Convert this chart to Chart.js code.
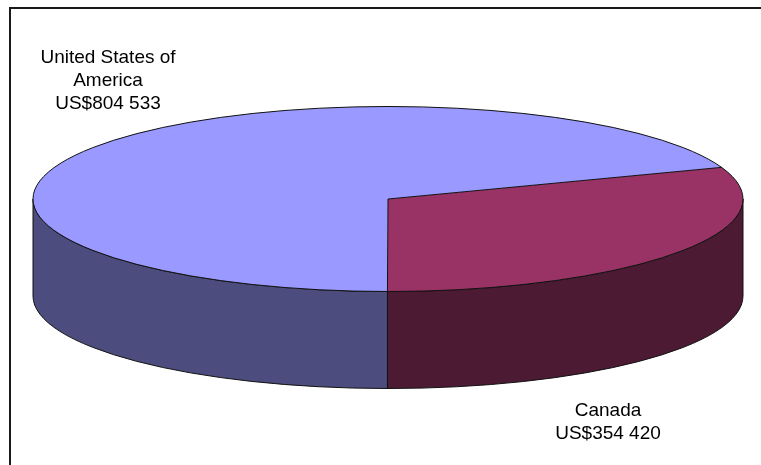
<!DOCTYPE html>
<html lang="en">
<head>
    <meta charset="UTF-8">
    <title>Canada and United States of America</title>
    <script src="https://cdn.jsdelivr.net/npm/chart.js"></script>
    <style>
        body {
            margin: 0;
            background: #ffffff;
        }
        canvas {
            display: block;
        }
    </style>
</head>
<body>

    <canvas id="pieChart" width="761" height="465"></canvas>

    <script>
        // Values in US$
        const countries = ["Canada", "United States of America"];
        const countryLines = [["Canada"], ["United States of", "America"]];
        const amounts = [354420, 804533];

        const topColors = ["#993366", "#9999ff"];
        const sideColors = ["#4c1a33", "#4c4c7e"];

        const tilt = 0.2606;   // vertical squash of the disc
        const depth = 97;      // thickness of the disc in px

        function money(v) {
            return "US$" + String(v).replace(/\B(?=(\d{3})+(?!\d))/g, " ");
        }

        // parts of an arc that face the viewer (0..PI in canvas angles)
        function frontParts(s, e) {
            const parts = [];
            [-2 * Math.PI, 0, 2 * Math.PI].forEach(off => {
                const a = Math.max(s + off, 0);
                const b = Math.min(e + off, Math.PI);
                if (b > a) parts.push([a, b]);
            });
            return parts;
        }

        const disc3d = {
            id: "disc3d",
            beforeDatasetsDraw(chart) {
                const ctx = chart.ctx;
                const arcs = chart.getDatasetMeta(0).data;
                if (!arcs.length) return;
                const cx = arcs[0].x, cy = arcs[0].y;
                const rx = arcs[0].outerRadius, ry = rx * tilt;

                // side walls
                arcs.forEach((arc, i) => {
                    frontParts(arc.startAngle, arc.endAngle).forEach(([a, b]) => {
                        ctx.beginPath();
                        ctx.ellipse(cx, cy, rx, ry, 0, a, b);
                        ctx.ellipse(cx, cy + depth, rx, ry, 0, b, a, true);
                        ctx.closePath();
                        ctx.fillStyle = sideColors[i];
                        ctx.fill();
                        ctx.lineWidth = 1;
                        ctx.strokeStyle = "#111";
                        ctx.stroke();
                    });
                });

                // squash the top face
                ctx.save();
                ctx.translate(cx, cy);
                ctx.scale(1, tilt);
                ctx.translate(-cx, -cy);
            },
            afterDatasetsDraw(chart) {
                const ctx = chart.ctx;
                ctx.restore();
                const arcs = chart.getDatasetMeta(0).data;
                if (!arcs.length) return;
                const cx = arcs[0].x, cy = arcs[0].y;
                const rx = arcs[0].outerRadius, ry = rx * tilt;

                ctx.save();
                ctx.lineWidth = 1;
                ctx.strokeStyle = "#111";
                ctx.beginPath();
                ctx.ellipse(cx, cy, rx, ry, 0, 0, 2 * Math.PI);
                ctx.stroke();
                arcs.forEach(arc => {
                    ctx.beginPath();
                    ctx.moveTo(cx, cy);
                    ctx.lineTo(cx + rx * Math.cos(arc.startAngle), cy + ry * Math.sin(arc.startAngle));
                    ctx.stroke();
                });
                ctx.restore();
            },
            afterDraw(chart) {
                const ctx = chart.ctx;
                ctx.save();

                // frame
                ctx.strokeStyle = "#1a1a1a";
                ctx.lineWidth = 2;
                ctx.beginPath();
                ctx.moveTo(10, 465);
                ctx.lineTo(10, 8);
                ctx.lineTo(761, 8);
                ctx.stroke();

                // labels
                ctx.fillStyle = "#000";
                ctx.font = '19px "Liberation Sans", Arial, sans-serif';
                ctx.textAlign = "center";
                ctx.textBaseline = "alphabetic";
                const spots = [{x: 608, y: 416}, {x: 108, y: 63}];
                countryLines.forEach((lines, i) => {
                    const rows = lines.concat([money(amounts[i])]);
                    rows.forEach((t, j) => ctx.fillText(t, spots[i].x, spots[i].y + j * 23));
                });
                ctx.restore();
            }
        };

        new Chart(document.getElementById("pieChart"), {
            type: "pie",
            data: {
                labels: countries,
                datasets: [{
                    data: amounts,
                    backgroundColor: topColors,
                    borderWidth: 0,
                    radius: 355,
                    rotation: 70
                }]
            },
            options: {
                responsive: false,
                animation: false,
                layout: {
                    padding: { left: 15, right: 0, top: 0, bottom: 67 }
                },
                plugins: {
                    legend: { display: false },
                    tooltip: { enabled: false }
                }
            },
            plugins: [disc3d]
        });
    </script>

</body>
</html>
